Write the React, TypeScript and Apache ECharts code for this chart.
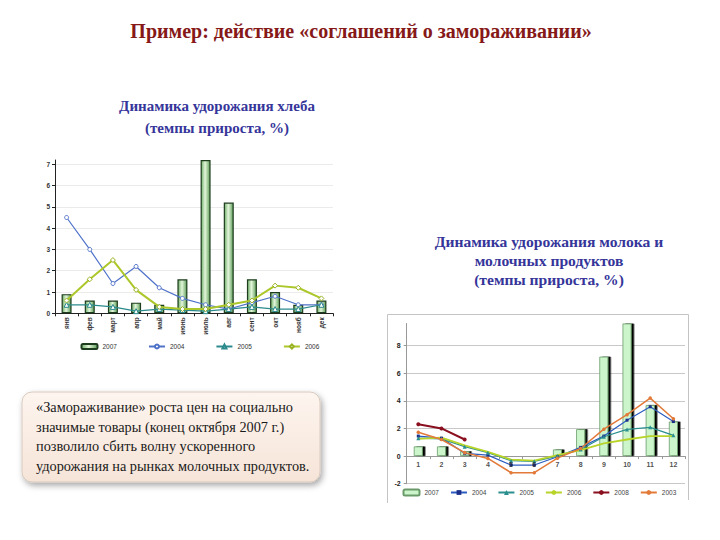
import React, { useEffect, useRef } from "react";
import * as echarts from "echarts";

const breadMonths = ["янв", "фев", "март", "апр", "май", "июнь", "июль", "авг", "сент", "окт", "нояб", "дек"];
const bread2007 = [0.9, 0.6, 0.6, 0.5, 0.4, 1.6, 7.2, 5.2, 1.6, 1.0, 0.4, 0.6];
const bread2004 = [4.5, 3.0, 1.4, 2.2, 1.2, 0.7, 0.4, 0.2, 0.5, 0.8, 0.4, 0.4];
const bread2005 = [0.4, 0.4, 0.3, 0.1, 0.2, 0.15, 0.1, 0.2, 0.3, 0.2, 0.2, 0.4];
const bread2006 = [0.6, 1.6, 2.5, 1.1, 0.3, 0.2, 0.2, 0.4, 0.6, 1.3, 1.2, 0.7];

const milkMonths = ["1", "2", "3", "4", "5", "6", "7", "8", "9", "10", "11", "12"];
const milk2007 = [0.7, 0.7, 0.35, 0, 0, 0, 0.48, 1.95, 7.2, 9.6, 3.7, 2.5];
const milk2004 = [1.45, 1.3, 0.2, 0.07, -0.65, -0.65, -0.05, 0.63, 1.45, 2.6, 3.57, 2.5];
const milk2005 = [1.3, 1.25, 0.68, 0.25, -0.33, -0.38, 0, 0.48, 1.4, 1.93, 2.08, 1.5];
const milk2006 = [1.25, 1.33, 0.77, 0.3, -0.25, -0.33, 0.07, 0.43, 0.92, 1.2, 1.45, 1.45];
const milk2008 = [2.3, 2.0, 1.2];
const milk2003 = [1.72, 1.2, 0.25, -0.17, -1.2, -1.2, -0.15, 0.55, 1.95, 3.0, 4.2, 2.7];

const mainTitle = "Пример: действие «соглашений о замораживании»";
const breadTitle = ["Динамика удорожания хлеба", "(темпы прироста, %)"];
const milkTitle = ["Динамика удорожания молока и", "молочных продуктов", "(темпы прироста, %)"];
const noteLines = [
  "«Замораживание» роста цен на социально",
  "значимые товары (конец октября 2007 г.)",
  "позволило сбить волну ускоренного",
  "удорожания на рынках молочных продуктов.",
];

const SANS = "Liberation Sans";
const SERIF = "Liberation Serif";

function buildOption() {
  const barGrad = new echarts.graphic.LinearGradient(0, 0, 1, 0, [
    { offset: 0, color: "#6fae6a" },
    { offset: 0.45, color: "#e3f6da" },
    { offset: 1, color: "#5f9e5a" },
  ]);
  const hollow = (c: string) => ({ color: "#fff", borderColor: c, borderWidth: 1 });
  const texts: any[] = [];
  const serifText = (t: string, x: number, y: number, size: number, color: string, bold: boolean, align = "center") => ({
    type: "text", x, y,
    style: {
      text: t, fill: color, fontFamily: SERIF, fontSize: size, fontWeight: bold ? "bold" : "normal",
      textAlign: align, textVerticalAlign: "middle",
    },
  });
  texts.push(serifText(mainTitle, 361, 31, 20, "#861818", true));
  breadTitle.forEach((t, i) => texts.push(serifText(t, 217, 106 + i * 22, 15, "#35359a", true)));
  milkTitle.forEach((t, i) => texts.push(serifText(t, 549, 241 + i * 19, 15.6, "#35359a", true)));
  texts.push({
    type: "rect",
    shape: { x: 22, y: 392, width: 298, height: 90, r: 10 },
    style: {
      fill: new echarts.graphic.LinearGradient(0, 0, 0, 1, [
        { offset: 0, color: "#fdf5ef" },
        { offset: 1, color: "#f6e4d8" },
      ]),
      stroke: "#d9cabf", lineWidth: 1,
      shadowBlur: 6, shadowColor: "rgba(0,0,0,0.35)", shadowOffsetX: 2, shadowOffsetY: 3,
    },
  });
  noteLines.forEach((t, i) => texts.push(serifText(t, 36, 407 + i * 19.5, 14.3, "#1a1a1a", false, "left")));
  texts.push({
    type: "polyline",
    shape: { points: [[387.5, 503], [387.5, 314.5], [688.5, 314.5], [688.5, 500]] },
    style: { stroke: "#c4c4c4", lineWidth: 1, fill: "none" },
  });

  return {
    animation: false,
    backgroundColor: "#ffffff",
    textStyle: { fontFamily: SANS },
    graphic: texts,
    grid: [
      { left: 55, top: 160, width: 278, height: 153.3 },
      { left: 406.7, top: 323.5, width: 278.3, height: 160.2 },
    ],
    legend: [
      {
        data: ["2007", "2004", "2005", "2006"],
        left: 80.5, top: 343, padding: 0, itemWidth: 16, itemHeight: 5, itemGap: 31,
        textStyle: { fontSize: 6.5, color: "#333", fontFamily: SANS },
      },
      {
        data: ["2007 ", "2004 ", "2005 ", "2006 ", "2008", "2003"],
        left: 402.5, top: 488.5, padding: 0, itemWidth: 16, itemHeight: 6, itemGap: 11,
        formatter: (n: string) => n.trim(),
        textStyle: { fontSize: 6.5, color: "#444", fontFamily: SANS },
      },
    ],
    xAxis: [
      {
        type: "category", gridIndex: 0, data: breadMonths,
        axisLine: { lineStyle: { color: "#222", width: 1 } },
        axisTick: { show: true, length: 3, lineStyle: { color: "#222" } },
        axisLabel: { rotate: 90, fontSize: 6.5, fontWeight: "bold", color: "#333", margin: 4, interval: 0 },
      },
      {
        type: "category", gridIndex: 1, data: milkMonths,
        axisLine: { onZero: true, lineStyle: { color: "#999", width: 1 } },
        axisTick: { show: true, length: 3, lineStyle: { color: "#999" } },
        axisLabel: { show: false },
      },
    ],
    yAxis: [
      {
        type: "value", gridIndex: 0, min: 0, max: 7.2, interval: 1,
        axisLine: { show: true, lineStyle: { color: "#222", width: 1 } },
        axisTick: { show: true, length: 3, lineStyle: { color: "#222" } },
        axisLabel: { fontSize: 6.5, color: "#333", margin: 5, showMaxLabel: false, fontWeight: "bold" },
        splitLine: { lineStyle: { color: "#ebebeb" }, showMaxLine: false },
      },
      {
        type: "value", gridIndex: 1, min: -2, max: 9.6, interval: 2,
        axisLine: { show: true, lineStyle: { color: "#999", width: 1 } },
        axisTick: { show: true, length: 3, lineStyle: { color: "#999" } },
        axisLabel: { fontSize: 7, color: "#222", margin: 6, showMaxLabel: false, fontWeight: "bold" },
        splitLine: { lineStyle: { color: "#c8c8c8" }, showMaxLine: false },
      },
    ],
    series: [
      {
        name: "2007", type: "bar", xAxisIndex: 0, yAxisIndex: 0, data: bread2007, barWidth: 10,
        itemStyle: { color: barGrad, borderColor: "#1e3d1e", borderWidth: 1.2 },
      },
      {
        name: "2004", type: "line", xAxisIndex: 0, yAxisIndex: 0, data: bread2004,
        symbol: "circle", symbolSize: 4, showAllSymbol: true,
        lineStyle: { color: "#4f72c9", width: 1.2 }, itemStyle: hollow("#4f72c9"),
      },
      {
        name: "2005", type: "line", xAxisIndex: 0, yAxisIndex: 0, data: bread2005,
        symbol: "triangle", symbolSize: 5, showAllSymbol: true,
        lineStyle: { color: "#2b8a8c", width: 1.2 }, itemStyle: hollow("#2b8a8c"),
      },
      {
        name: "2006", type: "line", xAxisIndex: 0, yAxisIndex: 0, data: bread2006,
        symbol: "diamond", symbolSize: 5, showAllSymbol: true,
        lineStyle: { color: "#acc72a", width: 2 }, itemStyle: hollow("#98b222"),
      },
      {
        name: "2007 ", type: "bar", xAxisIndex: 1, yAxisIndex: 1, data: milk2007, barWidth: 9,
        itemStyle: {
          color: "#ccf5cc", borderColor: "#6a9a6a", borderWidth: 0.8,
          shadowColor: "#000", shadowBlur: 0, shadowOffsetX: 2.5, shadowOffsetY: 0,
        },
      },
      {
        name: "2004 ", type: "line", xAxisIndex: 1, yAxisIndex: 1, data: milk2004,
        symbol: "rect", symbolSize: 3, lineStyle: { color: "#2d5cc0", width: 1.2 },
        itemStyle: { color: "#1b2f8a" },
      },
      {
        name: "2005 ", type: "line", xAxisIndex: 1, yAxisIndex: 1, data: milk2005,
        symbol: "triangle", symbolSize: 4, lineStyle: { color: "#2a8f8f", width: 1.2 },
        itemStyle: { color: "#2a8f8f" },
      },
      {
        name: "2006 ", type: "line", xAxisIndex: 1, yAxisIndex: 1, data: milk2006,
        symbol: "none", lineStyle: { color: "#b8d42a", width: 1.8 },
        itemStyle: { color: "#b8d42a" },
      },
      {
        name: "2008", type: "line", xAxisIndex: 1, yAxisIndex: 1, data: milk2008,
        symbol: "circle", symbolSize: 4, lineStyle: { color: "#8a0f1f", width: 2 },
        itemStyle: { color: "#8a0f1f" },
      },
      {
        name: "2003", type: "line", xAxisIndex: 1, yAxisIndex: 1, data: milk2003,
        symbol: "circle", symbolSize: 3.5, lineStyle: { color: "#e27a3a", width: 1.5 },
        itemStyle: { color: "#e27a3a" },
      },
      {
        name: "__monthLabels", type: "scatter", xAxisIndex: 1, yAxisIndex: 1, silent: true,
        data: milkMonths.map((m) => [m, 0]),
        symbolSize: 0,
        label: {
          show: true, position: "bottom", distance: 5,
          formatter: (p: any) => p.value[0],
          fontSize: 7, fontWeight: "bold", color: "#222", fontFamily: SANS,
        },
        z: 5,
      },
    ],
  };
}

export default function App() {
  const ref = useRef<HTMLDivElement>(null);
  useEffect(() => {
    if (!ref.current) return;
    const chart = echarts.init(ref.current, null, { renderer: "svg" });
    chart.setOption(buildOption() as any);
    return () => chart.dispose();
  }, []);
  return (
    <div
      ref={ref}
      style={{ position: "absolute", left: 0, top: 0, width: 720, height: 540, background: "#fff" }}
    />
  );
}
